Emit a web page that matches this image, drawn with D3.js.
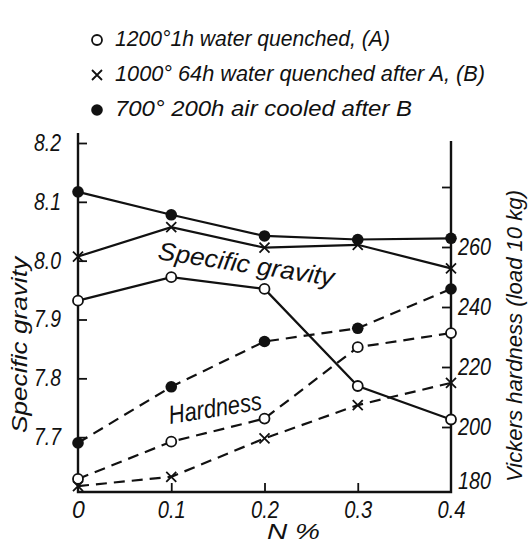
<!DOCTYPE html>
<html>
<head>
<meta charset="utf-8">
<script src="https://cdn.jsdelivr.net/npm/d3@7"></script>
<style>
  body { margin: 0; background: #fff; overflow: hidden; }
  svg { display: block; }
  text { font-family: "Liberation Sans", Arial, sans-serif; font-style: italic; fill: #111; }
</style>
</head>
<body>
<svg class="chart" width="530" height="547"></svg>
<script>
// N % content of each specimen
const nPct = [0, 0.1, 0.2, 0.3, 0.4];

// specific gravity
const sgA = [7.932, 7.972, 7.952, 7.787, 7.730];
const sgB = [8.007, 8.057, 8.022, 8.027, 7.987];
const sgC = [8.117, 8.078, 8.042, 8.036, 8.038];

// Vickers hardness
const hvA = [182.7, 195.1, 202.8, 226.6, 231.3];
const hvB = [180.3, 183.4, 196.2, 207.3, 214.7];
const hvC = [194.7, 213.4, 228.5, 232.9, 246.0];

const legendLabels = [
  "1200°1h water quenched, (A)",
  "1000° 64h water quenched after A, (B)",
  "700° 200h air cooled after B"
];
const xTicks = [0, 0.1, 0.2, 0.3, 0.4];
const sgTicks = [7.7, 7.8, 7.9, 8.0, 8.1, 8.2];
const hvTicks = [180, 200, 220, 240, 260, 280];

const svg = d3.select(".chart");
const plotL = 78, plotR = 451, plotB = 492, plotT = 133;

const x = d3.scaleLinear().domain([0, 0.4]).range([plotL, plotR]);
const ySG = d3.scaleLinear().domain([7.6, 8.2]).range([496, 143]);
const yHV = d3.scaleLinear().domain([180, 280]).range([487, 187]);

// frame: left, bottom, right (no top)
svg.append("path")
  .attr("d", `M${plotL},${plotT}V${plotB}H${plotR}V${plotT + 8}`)
  .attr("fill", "none").attr("stroke", "#111").attr("stroke-width", 2.4);

// left axis ticks
const gl = svg.append("g").attr("transform", `translate(${plotL},0)`)
  .call(d3.axisLeft(ySG).tickValues(sgTicks).tickSize(-9).tickPadding(17).tickFormat(d3.format(".1f")));
gl.select(".domain").remove();
gl.selectAll(".tick line").attr("stroke", "#111").attr("stroke-width", 1.8);
gl.selectAll(".tick text").style("font-size", "23px")
  .attr("textLength", 27).attr("lengthAdjust", "spacingAndGlyphs");

// right axis ticks
const gr = svg.append("g").attr("transform", `translate(${plotR},0)`)
  .call(d3.axisRight(yHV).tickValues(hvTicks).tickSize(-9).tickPadding(7).tickFormat(d => d === 280 ? "" : d));
gr.select(".domain").remove();
gr.selectAll(".tick line").attr("stroke", "#111").attr("stroke-width", 1.8)
  .attr("opacity", d => d === 180 ? 0 : 1);
gr.selectAll(".tick text").style("font-size", "23px")
  .attr("dy", d => d === 180 ? "0.05em" : "0.32em")
  .filter(d => d !== 280).attr("textLength", 33).attr("lengthAdjust", "spacingAndGlyphs");

// bottom axis ticks
const gb = svg.append("g").attr("transform", `translate(0,${plotB})`)
  .call(d3.axisBottom(x).tickValues(xTicks).tickSize(-9).tickPadding(10).tickFormat(d => d === 0 ? "0" : d3.format(".1f")(d)));
gb.select(".domain").remove();
gb.selectAll(".tick line").attr("stroke", "#111").attr("stroke-width", 1.8)
  .attr("opacity", d => (d === 0 || d === 0.4) ? 0 : 1);
gb.selectAll(".tick text").style("font-size", "23px")
  .filter(d => d !== 0).attr("textLength", 28).attr("lengthAdjust", "spacingAndGlyphs");

// axis titles
svg.append("text").attr("transform", "translate(27,345) rotate(-90)")
  .attr("text-anchor", "middle").style("font-size", "22px")
  .attr("textLength", 176).attr("lengthAdjust", "spacingAndGlyphs").text("Specific gravity");
svg.append("text").attr("transform", "translate(522,336) rotate(-90)")
  .attr("text-anchor", "middle").style("font-size", "22px")
  .attr("textLength", 292).attr("lengthAdjust", "spacingAndGlyphs").text("Vickers hardness (load 10 kg)");
svg.append("text").attr("x", 267).attr("y", 539)
  .style("font-size", "22px").attr("textLength", 53).attr("lengthAdjust", "spacingAndGlyphs").text("N  %");

const series = [
  { v: sgA, y: ySG, m: "open", dash: null },
  { v: sgB, y: ySG, m: "cross", dash: null },
  { v: sgC, y: ySG, m: "fill", dash: null },
  { v: hvA, y: yHV, m: "open", dash: "11,7" },
  { v: hvB, y: yHV, m: "cross", dash: "11,7" },
  { v: hvC, y: yHV, m: "fill", dash: "11,7" }
];

function drawMarker(g, kind, cx, cy) {
  if (kind === "open") {
    g.append("circle").attr("cx", cx).attr("cy", cy).attr("r", 5)
      .attr("fill", "#fff").attr("stroke", "#111").attr("stroke-width", 1.8);
  } else if (kind === "fill") {
    g.append("circle").attr("cx", cx).attr("cy", cy).attr("r", 5.8).attr("fill", "#111");
  } else {
    const s = 5;
    g.append("path").attr("d", `M${cx - s},${cy - s}L${cx + s},${cy + s}M${cx - s},${cy + s}L${cx + s},${cy - s}`)
      .attr("stroke", "#111").attr("stroke-width", 1.8).attr("fill", "none");
  }
}

series.forEach(s => {
  const line = d3.line().x((d, i) => x(nPct[i])).y(d => s.y(d));
  svg.append("path").datum(s.v).attr("d", line)
    .attr("fill", "none").attr("stroke", "#111").attr("stroke-width", 2.2)
    .attr("stroke-dasharray", s.dash);
});
series.forEach(s => {
  const g = svg.append("g");
  s.v.forEach((d, i) => drawMarker(g, s.m, x(nPct[i]), s.y(d)));
});

// curve labels
svg.append("text").attr("transform", "translate(157,259) rotate(8.7)")
  .style("font-size", "25px").attr("textLength", 178).attr("lengthAdjust", "spacingAndGlyphs")
  .text("Specific gravity");
svg.append("text").attr("transform", "translate(170,424) rotate(-9)")
  .style("font-size", "26px").attr("textLength", 94).attr("lengthAdjust", "spacingAndGlyphs")
  .text("Hardness");

// legend
const kinds = ["open", "cross", "fill"];
const legendLen = [275, 370, 297];
const lg = svg.append("g");
legendLabels.forEach((t, i) => {
  const yy = 40 + i * 35;
  drawMarker(lg, kinds[i], 97, yy);
  lg.append("text").attr("x", 115).attr("y", yy + 6).style("font-size", "22px")
    .attr("textLength", legendLen[i]).attr("lengthAdjust", "spacingAndGlyphs").text(t);
});
</script>
</body>
</html>
